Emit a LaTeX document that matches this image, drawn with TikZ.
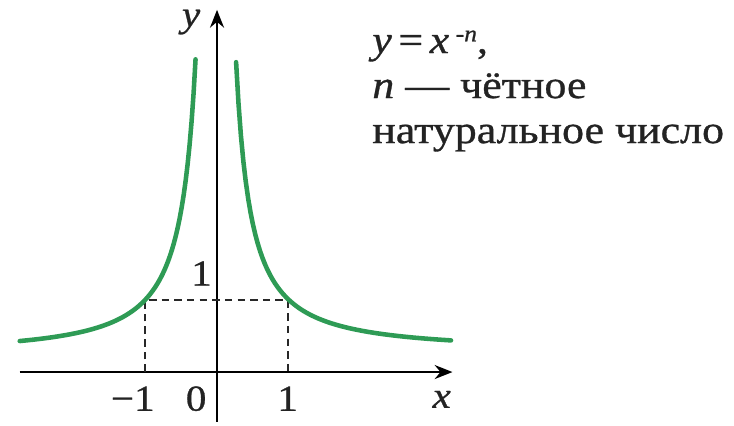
\documentclass[tikz,border=0pt]{standalone}
\usepackage{fontspec}
\setmainfont{Liberation Serif}[FakeStretch=1.1]
\newfontfamily\capfont{Liberation Serif}[FakeStretch=1.12, FakeBold=0.8]
\usetikzlibrary{arrows.meta}

\definecolor{graphgreen}{RGB}{46, 155, 85}
\definecolor{guidegray}{RGB}{40, 40, 40}
\definecolor{inkgray}{RGB}{35, 35, 35}

\begin{document}
\begin{tikzpicture}[
    x=1cm, y=1cm,
    axis/.style={line width=1.1pt, -{Stealth[length=7pt, width=5.5pt]}},
    branch/.style={graphgreen, line width=1.8pt, line cap=round},
    guide/.style={guidegray, line width=0.75pt, dash pattern=on 3pt off 2pt},
    lbl/.style={font=\capfont\fontsize{14.5}{17}\selectfont, inner sep=0pt, inkgray},
    note/.style={font=\capfont\fontsize{15.5}{18}\selectfont, inner sep=0pt,
      anchor=base west, inkgray},
  ]
    \useasboundingbox (-3.014,-0.736) rectangle (7.18,5.167);

    % === Axes ===
    \coordinate (xstart) at (-2.74,0);
    \coordinate (xend) at (3.27,0);
    \coordinate (ystart) at (0,-0.69);
    \coordinate (yend) at (0,5.03);
    \draw[axis] (xstart) -- (xend);
    \draw[axis] (ystart) -- (yend);
    \node[lbl] (xlab) at (3.12,-0.38) {\textit{x}};
    \node[lbl] (ylab) at (-0.36,4.86) {\textit{y}};

    % tick labels
    \node[lbl] (tickm1) at (-1.17,-0.37) {−1};
    \node[lbl] (tick0) at (-0.29,-0.37) {0};
    \node[lbl] (tick1) at (0.98,-0.37) {1};
    \node[lbl] (ticky1) at (-0.215,1.37) {1};

    % --- dashed guides through (-1,1) and (1,1) ---
    \coordinate (footl) at (-1,0);
    \coordinate (cornl) at (-1,1);
    \coordinate (cornr) at (0.98,1);
    \coordinate (footr) at (0.98,0);
    \draw[guide] (footl) -- (cornl) -- (cornr) -- (footr);

    % === y = x^{-n}, two branches ===
    \draw[branch] plot[domain=-2.74:-0.297, samples=90, variable=\t]
      (\t, {0.247+0.753*abs(\t)^(-1.4)});
    \draw[branch] plot[domain=0.265:3.25, samples=90, variable=\t]
      (\t, {0.285+0.715*\t^(-1.3)});

    % === Caption ===
    \node[note] (cap1) at (2.15,4.43)
      {\textit{y}\,=\,\textit{x}\,\raisebox{0.3em}{\fontsize{9}{9}\selectfont -\textit{n}},};
    \node[note] (cap2) at (2.15,3.805) {\textit{n} — ч^^^^0451тное};
    \node[note] (cap3) at (2.15,3.18) {натуральное число};
\end{tikzpicture}
\end{document}
